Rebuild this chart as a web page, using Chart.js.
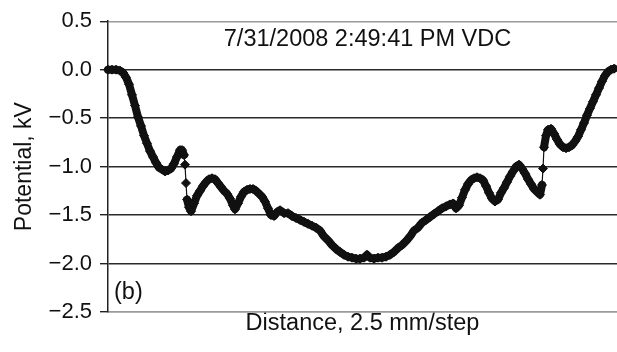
<!DOCTYPE html>
<html>
<head>
<meta charset="utf-8">
<script src="https://cdn.jsdelivr.net/npm/chart.js@4/dist/chart.umd.min.js"></script>
<style>
  html, body { margin: 0; padding: 0; background: #fff; }
  #wrap { width: 617px; height: 352px; position: relative; }
</style>
</head>
<body>
<div id="wrap"><canvas id="c" width="617" height="352"></canvas></div>
<script>
// Distance (arbitrary step units along the scan)
const distance = [0,4,8,12,15,18,21,24,27,30,33,36,39,42,45,48,51,54,57,60,63,66,69,72,74,76,77,78,79,81,83,86,89,92,95,98,101,104,107,110,113,116,119,122,125,127,130,133,136,139,142,145,148,151,154,157,160,163,166,169,172,176,180,184,188,192,196,200,204,208,212,216,220,224,228,232,236,240,244,248,252,256,259,262,266,270,274,278,282,286,290,294,298,302,306,310,314,318,322,326,330,334,338,342,345,348,351,354,357,360,363,366,369,372,375,378,381,384,387,390,393,396,399,402,405,408,411,414,417,420,423,426,429,432,434,435,436,438,440,443,446,449,452,455,458,461,464,467,470,473,476,479,482,485,488,491,494,497,500,503,506];
// Potential, kV
const potential = [0.00,0.00,0.00,-0.01,-0.03,-0.08,-0.15,-0.26,-0.37,-0.49,-0.58,-0.68,-0.76,-0.84,-0.90,-0.96,-1.01,-1.03,-1.05,-1.04,-1.02,-0.97,-0.90,-0.83,-0.83,-0.88,-0.98,-1.17,-1.34,-1.42,-1.46,-1.38,-1.30,-1.25,-1.20,-1.16,-1.13,-1.12,-1.13,-1.17,-1.21,-1.25,-1.28,-1.33,-1.40,-1.44,-1.38,-1.31,-1.26,-1.24,-1.23,-1.23,-1.25,-1.28,-1.31,-1.36,-1.43,-1.50,-1.51,-1.47,-1.45,-1.48,-1.48,-1.51,-1.53,-1.55,-1.57,-1.59,-1.61,-1.63,-1.66,-1.72,-1.76,-1.81,-1.85,-1.88,-1.91,-1.93,-1.94,-1.95,-1.95,-1.94,-1.91,-1.94,-1.95,-1.94,-1.94,-1.93,-1.91,-1.88,-1.84,-1.81,-1.77,-1.72,-1.66,-1.63,-1.58,-1.55,-1.52,-1.49,-1.46,-1.43,-1.41,-1.39,-1.38,-1.43,-1.40,-1.32,-1.24,-1.18,-1.14,-1.12,-1.11,-1.12,-1.14,-1.20,-1.27,-1.33,-1.36,-1.34,-1.27,-1.22,-1.16,-1.10,-1.05,-1.00,-0.98,-1.02,-1.07,-1.13,-1.18,-1.23,-1.26,-1.29,-1.19,-1.02,-0.80,-0.68,-0.62,-0.61,-0.66,-0.72,-0.77,-0.80,-0.81,-0.80,-0.78,-0.74,-0.69,-0.62,-0.55,-0.47,-0.40,-0.33,-0.26,-0.19,-0.12,-0.06,-0.02,0.00,0.01];

const yTickValues = [-2.5, -2.0, -1.5, -1.0, -0.5, 0.0, 0.5];
const yTickLabels = ['\u22122.5', '\u22122.0', '\u22121.5', '\u22121.0', '\u22120.5', '0.0', '0.5'];
const chartTitle = '7/31/2008 2:49:41 PM VDC';
const panelLabel = '(b)';
const xTitle = 'Distance, 2.5 mm/step';
const yTitle = 'Potential, kV';

const FONT = "'Liberation Sans', Arial, sans-serif";

const points = distance.map((d, i) => ({ x: d, y: potential[i] }));

const textPlugin = {
  id: 'texts',
  afterDatasetsDraw(chart) {
    const { ctx, chartArea } = chart;
    ctx.save();
    ctx.fillStyle = '#111';
    ctx.font = "23.5px " + FONT;
    ctx.textBaseline = 'middle';
    ctx.textAlign = 'center';
    ctx.fillText(chartTitle, (chartArea.left + chartArea.right) / 2 + 5, chartArea.top + 18);
    ctx.textAlign = 'left';
    ctx.fillText(panelLabel, chartArea.left + 6, chartArea.bottom - 19);
    ctx.restore();
  }
};

// segments where the scan jumps steeply are drawn as a thin connector
function isJump(ctx) {
  const dx = Math.abs(ctx.p1.x - ctx.p0.x);
  const dy = Math.abs(ctx.p1.y - ctx.p0.y);
  return dx > 0 && dy / dx > 6;
}

new Chart(document.getElementById('c'), {
  type: 'scatter',
  data: {
    datasets: [{
      data: points,
      showLine: true,
      borderColor: '#111',
      borderWidth: 8,
      borderCapStyle: 'round',
      borderJoinStyle: 'round',
      segment: {
        borderWidth: (ctx) => isJump(ctx) ? 1.2 : 8
      },
      backgroundColor: '#111',
      pointStyle: 'rectRot',
      pointRadius: 4.5,
      pointBorderWidth: 1,
      pointBorderColor: '#111',
      pointBackgroundColor: '#111',
      clip: 10
    }]
  },
  options: {
    responsive: false,
    animation: false,
    devicePixelRatio: 1,
    layout: { autoPadding: false, padding: { top: 20, right: 0, left: 0, bottom: 0 } },
    plugins: { legend: { display: false }, tooltip: { enabled: false } },
    scales: {
      x: {
        type: 'linear',
        min: 0,
        max: 509,
        grid: { display: false, drawTicks: false },
        border: { display: true, color: '#9a9a9a', width: 1.5 },
        ticks: { display: false },
        title: {
          display: true,
          text: xTitle,
          color: '#111',
          font: { family: FONT, size: 23.5 },
          padding: { top: 0, bottom: 14 }
        },
        afterFit(scale) { scale.height = 40; }
      },
      y: {
        min: -2.5,
        max: 0.5,
        afterBuildTicks(scale) { scale.ticks = yTickValues.map(v => ({ value: v })); },
        ticks: {
          color: '#111',
          font: { family: FONT, size: 22 },
          padding: 8,
          callback: (v) => yTickLabels[yTickValues.findIndex(t => Math.abs(t - v) < 1e-9)]
        },
        grid: {
          color: (c) => (c.tick && (c.tick.value === 0.5 || c.tick.value === -2.5)) ? '#9a9a9a' : '#2a2a2a',
          lineWidth: 1.4,
          tickColor: '#222',
          tickLength: 8,
          drawTicks: true
        },
        border: { display: true, color: '#222', width: 1.5 },
        title: {
          display: true,
          text: yTitle,
          color: '#111',
          font: { family: FONT, size: 23 },
          padding: { top: 11, bottom: 0 }
        },
        afterFit(scale) { scale.width = 108; }
      }
    }
  },
  plugins: [textPlugin]
});
</script>
</body>
</html>
